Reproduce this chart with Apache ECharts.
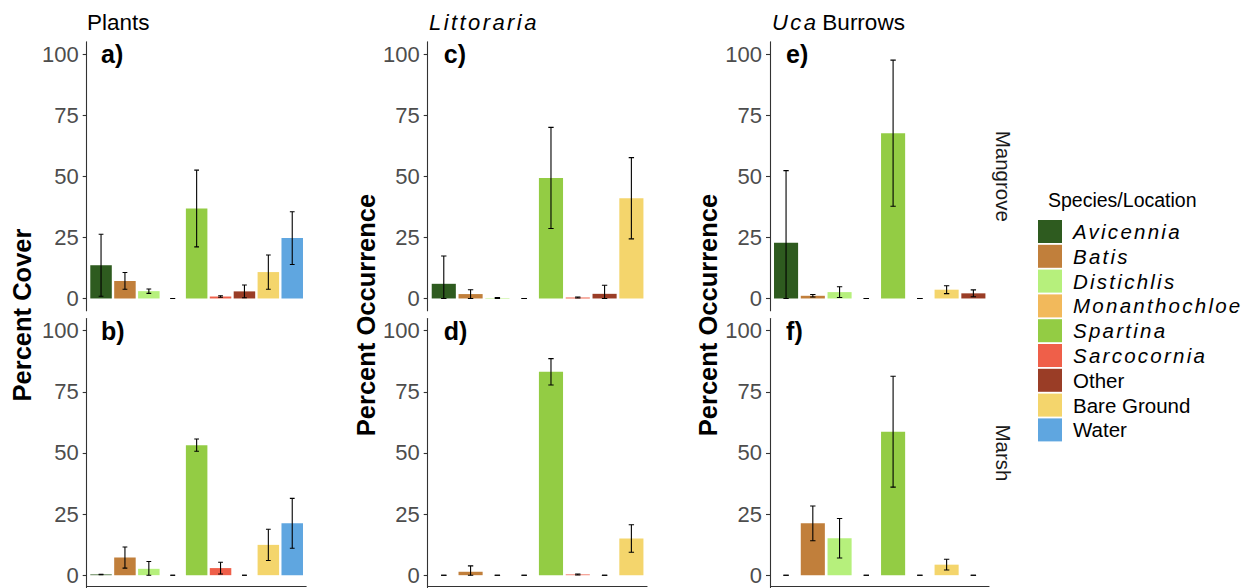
<!DOCTYPE html>
<html>
<head>
<meta charset="utf-8">
<script src="https://cdn.jsdelivr.net/npm/echarts@6/dist/echarts.min.js"></script>
<style>
  html, body { margin: 0; padding: 0; background: #ffffff; }
  #chart { width: 1247px; height: 588px; }
  /* italic species names are set with a little extra tracking */
  #chart text[style*="italic"], #chart text[font-style="italic"] { letter-spacing: 0.11em; }
</style>
</head>
<body>
<div id="chart"></div>
<script>
// ---- species / colour key ----
const species = ['Avicennia', 'Batis', 'Distichlis', 'Monanthochloe', 'Spartina', 'Sarcocornia', 'Other', 'Bare Ground', 'Water'];
const speciesColors = ['#2E5B1F', '#C17F3B', '#B6F07C', '#F2B95B', '#93CC44', '#EF5F49', '#9A3D26', '#F4D56C', '#5FA6E0'];
const speciesItalic = [true, true, true, true, true, true, false, false, false];

// ---- x categories of each column ----
const plantCats = ['Avicennia', 'Batis', 'Distichlis', 'Monanthochloe', 'Spartina', 'Sarcocornia', 'Other', 'Bare Ground', 'Water'];
const littorariaCats = ['Avicennia', 'Batis', 'Distichlis', 'Monanthochloe', 'Spartina', 'Sarcocornia', 'Other', 'Bare Ground'];
const ucaCats = ['Avicennia', 'Batis', 'Distichlis', 'Monanthochloe', 'Spartina', 'Sarcocornia', 'Bare Ground', 'Other'];

// ---- means and standard errors (%) ----
const plantsMangroveMean = [13.6, 7.2, 3.0, 0, 36.8, 0.8, 2.9, 10.8, 24.7];
const plantsMangroveSE   = [12.7, 3.4, 0.9, 0, 15.7, 0.3, 2.6, 7.0, 10.8];
const plantsMarshMean    = [0.3, 7.2, 2.6, 0, 53.2, 2.9, 0, 12.4, 21.2];
const plantsMarshSE      = [0.1, 4.3, 3.0, 0, 2.5, 2.4, 0, 6.4, 10.2];

const littMangroveMean = [6.0, 1.8, 0.2, 0, 49.3, 0.4, 1.9, 41.0];
const littMangroveSE   = [11.4, 1.8, 0.2, 0, 20.7, 0.2, 3.5, 16.6];
const littMarshMean    = [0, 1.4, 0, 0, 83.2, 0.3, 0, 15.0];
const littMarshSE      = [0, 2.4, 0, 0, 5.4, 0.2, 0, 5.6];

const ucaMangroveMean = [22.8, 1.1, 2.6, 0, 67.6, 0, 3.6, 2.1];
const ucaMangroveSE   = [29.5, 0.5, 2.2, 0, 29.9, 0, 1.6, 1.4];
const ucaMarshMean    = [0, 21.2, 15.1, 0, 58.7, 0, 4.3, 0];
const ucaMarshSE      = [0, 7.1, 8.1, 0, 22.7, 0, 2.2, 0];

const yTicks = [0, 25, 50, 75, 100];
const Y_MIN = -5, Y_MAX = 105;

// ---- layout ----
const FONT = '"Liberation Sans", Arial, Helvetica, sans-serif';
const columns = [
  { axisX: 86.7,  step: 23.9,  cats: plantCats,      yTitle: 'Percent Cover',      yTitleX: 21.5 },
  { axisX: 427.7, step: 26.8,  cats: littorariaCats, yTitle: 'Percent Occurrence', yTitleX: 366 },
  { axisX: 770,   step: 26.76, cats: ucaCats,        yTitle: 'Percent Occurrence', yTitleX: 708 }
];
const rows = [
  { top: 41.8,  bottom: 310.7, strip: 'Mangrove' },
  { top: 318.5, bottom: 587.4, strip: 'Marsh' }
];
const panels = [
  { col: 0, row: 0, tag: 'a)', mean: plantsMangroveMean, se: plantsMangroveSE },
  { col: 0, row: 1, tag: 'b)', mean: plantsMarshMean,    se: plantsMarshSE },
  { col: 1, row: 0, tag: 'c)', mean: littMangroveMean,   se: littMangroveSE },
  { col: 1, row: 1, tag: 'd)', mean: littMarshMean,      se: littMarshSE },
  { col: 2, row: 0, tag: 'e)', mean: ucaMangroveMean,    se: ucaMangroveSE },
  { col: 2, row: 1, tag: 'f)', mean: ucaMarshMean,       se: ucaMarshSE }
];

function colorOf(name) { return speciesColors[species.indexOf(name)]; }

// error bar: mean +/- SE, lower end floored at zero
function renderErrorBar(params, api) {
  const i = api.value(0), m = api.value(1), s = api.value(2);
  const hi = api.coord([i, m + s]);
  const lo = api.coord([i, Math.max(m - s, 0)]);
  const half = api.size([1, 0])[0] * 0.1;
  const st = { stroke: '#000000', lineWidth: 1.1, fill: null };
  return {
    type: 'group',
    children: [
      { type: 'line', shape: { x1: hi[0], y1: hi[1], x2: lo[0], y2: lo[1] }, style: st },
      { type: 'line', shape: { x1: hi[0] - half, y1: hi[1], x2: hi[0] + half, y2: hi[1] }, style: st },
      { type: 'line', shape: { x1: lo[0] - half, y1: lo[1], x2: lo[0] + half, y2: lo[1] }, style: st }
    ]
  };
}

const grid = [], xAxis = [], yAxis = [], series = [], graphic = [];

panels.forEach((p, k) => {
  const c = columns[p.col], r = rows[p.row];
  const n = c.cats.length;
  const pad = 0.1 * c.step;
  grid.push({ left: c.axisX + pad, top: r.top, width: n * c.step, height: r.bottom - r.top, containLabel: false });
  xAxis.push({
    type: 'category', gridIndex: k, data: c.cats, boundaryGap: true,
    axisLine: { show: false }, axisTick: { show: false }, axisLabel: { show: false }, splitLine: { show: false }
  });
  yAxis.push({
    type: 'value', gridIndex: k, min: Y_MIN, max: Y_MAX, offset: pad,
    axisLine: { show: true, lineStyle: { color: '#333333', width: 1.1 } },
    axisTick: { show: true, length: 4, customValues: yTicks, lineStyle: { color: '#333333', width: 1.1 } },
    axisLabel: { show: true, customValues: yTicks, fontSize: 22, fontFamily: FONT, color: '#4D4D4D', margin: 8 },
    splitLine: { show: false }
  });
  series.push({
    type: 'bar', xAxisIndex: k, yAxisIndex: k, barWidth: '90%', silent: true,
    data: p.mean.map((v, i) => ({ value: v, itemStyle: { color: colorOf(c.cats[i]) } }))
  });
  series.push({
    type: 'custom', xAxisIndex: k, yAxisIndex: k, silent: true, clip: true, z: 5,
    encode: { x: 0, y: 1 },
    renderItem: renderErrorBar,
    data: p.mean.map((v, i) => [i, v, p.se[i]])
  });

  // panel tag placed at the first category, level with 100
  const firstX = c.axisX + 0.6 * c.step;
  const y100 = r.top + (Y_MAX - 100) / (Y_MAX - Y_MIN) * (r.bottom - r.top);
  graphic.push({
    type: 'text', x: firstX, y: y100, silent: true,
    style: { text: p.tag, font: 'bold 25px ' + FONT, fill: '#000000', textAlign: 'left', textVerticalAlign: 'middle' }
  });

  // bottom row carries the x axis line
  if (p.row === 1) {
    graphic.push({
      type: 'line', silent: true,
      shape: { x1: c.axisX, y1: r.bottom - 0.9, x2: c.axisX + (n + 0.2) * c.step, y2: r.bottom - 0.9 },
      style: { stroke: '#333333', lineWidth: 1.1 }
    });
  }
});

// column titles
graphic.push(
  { type: 'text', x: 87, y: 22, silent: true,
    style: { text: 'Plants', font: '22.5px ' + FONT, fill: '#000000', textAlign: 'left', textVerticalAlign: 'middle' } },
  { type: 'text', x: 429, y: 22, silent: true,
    style: { text: 'Littoraria', font: 'italic 22px ' + FONT, fill: '#000000', textAlign: 'left', textVerticalAlign: 'middle' } },
  { type: 'text', x: 772, y: 22, silent: true,
    style: { text: '{i|Uca} Burrows', font: '22.5px ' + FONT, fill: '#000000', textAlign: 'left', textVerticalAlign: 'middle',
             rich: { i: { fontStyle: 'italic', fontSize: 22, fontFamily: FONT, fill: '#000000', padding: [0, 5, 0, 0] } } } }
);

// y axis titles
columns.forEach(c => {
  graphic.push({
    type: 'text', x: c.yTitleX, y: 315, rotation: Math.PI / 2, silent: true,
    style: { text: c.yTitle, font: 'bold 25.5px ' + FONT, fill: '#000000', textAlign: 'center', textVerticalAlign: 'middle' }
  });
});

// row strip labels
rows.forEach(r => {
  graphic.push({
    type: 'text', x: 1003, y: (r.top + r.bottom) / 2, rotation: -Math.PI / 2, silent: true,
    style: { text: r.strip, font: '20.5px ' + FONT, fill: '#1A1A1A', textAlign: 'center', textVerticalAlign: 'middle' }
  });
});

// colour key
graphic.push({
  type: 'text', x: 1048, y: 200, silent: true,
  style: { text: 'Species/Location', font: '19.5px ' + FONT, fill: '#000000', textAlign: 'left', textVerticalAlign: 'middle' }
});
species.forEach((s, i) => {
  const y = 220 + i * 24.8;
  graphic.push({
    type: 'rect', silent: true,
    shape: { x: 1038, y: y, width: 24, height: 23 },
    style: { fill: speciesColors[i] }
  });
  graphic.push({
    type: 'text', x: 1073, y: y + 11.5, silent: true,
    style: { text: s, font: (speciesItalic[i] ? 'italic ' : '') + '20.5px ' + FONT, fill: '#000000', textAlign: 'left', textVerticalAlign: 'middle' }
  });
});

const chart = echarts.init(document.getElementById('chart'), null, { renderer: 'svg' });
chart.setOption({
  animation: false,
  backgroundColor: '#ffffff',
  grid, xAxis, yAxis, series, graphic
});
</script>
</body>
</html>
